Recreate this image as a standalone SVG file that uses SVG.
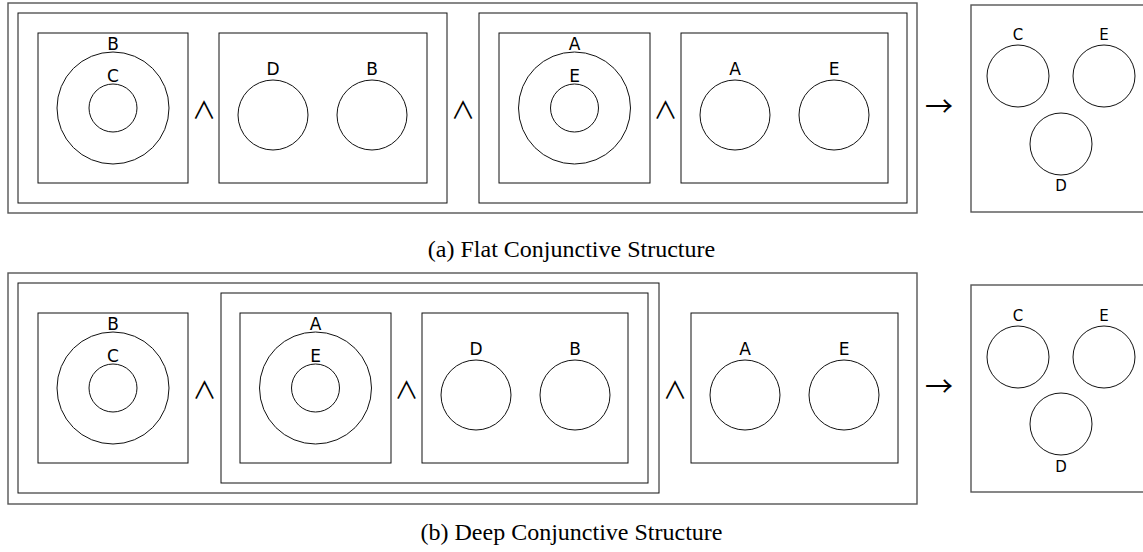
<svg xmlns="http://www.w3.org/2000/svg" width="1143" height="552" viewBox="0 0 1143 552">
<style>
.outer{fill:none;stroke:#555;stroke-width:1.4}
.box{fill:none;stroke:#111;stroke-width:1}
.c{fill:none;stroke:#111;stroke-width:1}
.lbl{font-family:"DejaVu Sans",sans-serif;font-size:17px;text-anchor:middle;fill:#000}
.rl{font-family:"DejaVu Sans",sans-serif;font-size:15px;text-anchor:middle;fill:#000}
.op{font-family:"Noto Sans CJK JP","DejaVu Sans",sans-serif;font-size:24px;text-anchor:middle;fill:#000}
.arr{font-family:"Noto Sans CJK JP","DejaVu Sans",sans-serif;font-size:28px;text-anchor:middle;fill:#000}
.cap{font-family:"Liberation Serif",serif;font-size:24px;text-anchor:middle;fill:#000}
</style>
<rect width="1143" height="552" fill="#fff"/>
<!-- (a) Flat -->
<g id="flat">
<rect class="outer" x="8" y="3" width="909" height="210"/>
<g id="flat-left">
<rect class="box" x="18" y="13" width="429" height="190"/>
<g id="a-box1">
<rect class="box" x="38" y="33" width="150" height="150"/>
<circle class="c" cx="113" cy="108" r="56"/>
<circle class="c" cx="113" cy="108" r="24"/>
<text class="lbl" x="113" y="50">B</text>
<text class="lbl" x="113" y="82">C</text>
</g>
<text class="op" x="204" y="119">∧</text>
<g id="a-box2">
<rect class="box" x="219" y="33" width="208" height="150"/>
<circle class="c" cx="273" cy="115" r="35"/>
<circle class="c" cx="372" cy="115" r="35"/>
<text class="lbl" x="273" y="75">D</text>
<text class="lbl" x="372" y="75">B</text>
</g>
</g>
<text class="op" x="463" y="119">∧</text>
<g id="flat-right">
<rect class="box" x="479" y="13" width="428" height="190"/>
<g id="a-box3">
<rect class="box" x="499" y="33" width="151" height="150"/>
<circle class="c" cx="574.5" cy="108" r="56"/>
<circle class="c" cx="574.5" cy="108" r="24"/>
<text class="lbl" x="574.5" y="50">A</text>
<text class="lbl" x="574.5" y="82">E</text>
</g>
<text class="op" x="665.5" y="119">∧</text>
<g id="a-box4">
<rect class="box" x="681" y="33" width="207" height="150"/>
<circle class="c" cx="735" cy="115" r="35"/>
<circle class="c" cx="834" cy="115" r="35"/>
<text class="lbl" x="735" y="75">A</text>
<text class="lbl" x="834" y="75">E</text>
</g>
</g>
</g>
<text class="arr" x="939" y="117">→</text>
<g id="a-result">
<rect class="outer" x="971" y="5" width="200" height="207"/>
<circle class="c" cx="1018" cy="76" r="31"/>
<circle class="c" cx="1104" cy="76" r="31"/>
<circle class="c" cx="1061" cy="144" r="31"/>
<text class="rl" x="1018" y="40">C</text>
<text class="rl" x="1104" y="40">E</text>
<text class="rl" x="1061" y="191">D</text>
</g>
<text class="cap" x="571.5" y="257">(a) Flat Conjunctive Structure</text>

<!-- (b) Deep -->
<g id="deep">
<rect class="outer" x="8" y="273" width="909" height="231"/>
<g id="deep-left">
<rect class="box" x="18" y="283" width="641" height="210"/>
<g id="b-box1">
<rect class="box" x="38" y="313" width="150" height="150"/>
<circle class="c" cx="113" cy="388" r="56"/>
<circle class="c" cx="113" cy="388" r="24"/>
<text class="lbl" x="113" y="330">B</text>
<text class="lbl" x="113" y="362">C</text>
</g>
<text class="op" x="204.5" y="399">∧</text>
<g id="deep-inner">
<rect class="box" x="221" y="293" width="427" height="190"/>
<g id="b-box2">
<rect class="box" x="240" y="313" width="151" height="150"/>
<circle class="c" cx="315.5" cy="388" r="56"/>
<circle class="c" cx="315.5" cy="388" r="24"/>
<text class="lbl" x="315.5" y="330">A</text>
<text class="lbl" x="315.5" y="362">E</text>
</g>
<text class="op" x="406.5" y="399">∧</text>
<g id="b-box3">
<rect class="box" x="422" y="313" width="206" height="150"/>
<circle class="c" cx="476" cy="395" r="35"/>
<circle class="c" cx="575" cy="395" r="35"/>
<text class="lbl" x="476" y="355">D</text>
<text class="lbl" x="575" y="355">B</text>
</g>
</g>
</g>
<text class="op" x="675" y="399">∧</text>
<g id="b-box4">
<rect class="box" x="691" y="313" width="207" height="150"/>
<circle class="c" cx="745" cy="395" r="35"/>
<circle class="c" cx="844" cy="395" r="35"/>
<text class="lbl" x="745" y="355">A</text>
<text class="lbl" x="844" y="355">E</text>
</g>
</g>
<text class="arr" x="939" y="397">→</text>
<g id="b-result">
<rect class="outer" x="971" y="285" width="200" height="207"/>
<circle class="c" cx="1018" cy="357" r="31"/>
<circle class="c" cx="1104" cy="357" r="31"/>
<circle class="c" cx="1061" cy="424" r="31"/>
<text class="rl" x="1018" y="321">C</text>
<text class="rl" x="1104" y="321">E</text>
<text class="rl" x="1061" y="472">D</text>
</g>
<text class="cap" x="571.5" y="540">(b) Deep Conjunctive Structure</text>
<g id="connectors"/>
</svg>
